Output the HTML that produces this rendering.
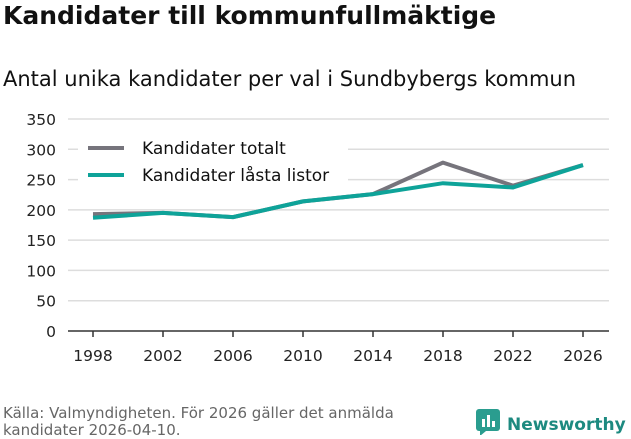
<!DOCTYPE html>
<html><head><meta charset="utf-8"><style>
body{margin:0;width:631px;height:439px;background:#fff;font-family:"DejaVu Sans","Liberation Sans",sans-serif;overflow:hidden;position:relative}
.t{position:absolute;left:3px;top:1px;font-size:25px;font-weight:bold;color:#111;white-space:nowrap}
.s{position:absolute;left:3px;top:67px;font-size:21px;color:#111;white-space:nowrap}
.src{position:absolute;left:3px;top:405px;font-size:15px;color:#666;line-height:17px;white-space:nowrap}
.logo{position:absolute;left:476px;top:409px;font-size:17px;font-weight:bold;color:#1d8a80;white-space:nowrap}
</style></head><body>
<div class="t">Kandidater till kommunfullmäktige</div>
<div class="s">Antal unika kandidater per val i Sundbybergs kommun</div>
<svg id="c" width="631" height="439" style="position:absolute;left:0;top:0"></svg>
<div class="src">Källa: Valmyndigheten. För 2026 gäller det anmälda<br>kandidater 2026-04-10.</div>
<div class="logo"><svg width="24" height="26" style="vertical-align:-5px;margin-right:7px"><rect x="0" y="0" width="24" height="22" rx="3" fill="#2a9d8f"/><polygon points="4,22 10,22 4,27" fill="#2a9d8f"/><rect x="6" y="10" width="3" height="8" fill="#fff"/><rect x="11" y="6" width="3" height="12" fill="#fff"/><rect x="16" y="12" width="3" height="6" fill="#fff"/></svg>Newsworthy</div>
<script>
const years=[1998,2002,2006,2010,2014,2018,2022,2026];
const totalt=[193,195,188,214,226,278,240,274];
const lasta=[187,195,188,214,226,244,237,274];
const yTicks=[0,50,100,150,200,250,300,350];
const NS="http://www.w3.org/2000/svg";
const svg=document.getElementById('c');
const x=v=>93+(v-1998)/28*490;
const y=v=>331-v/350*212;
function el(t,a){const e=document.createElementNS(NS,t);for(const k in a)e.setAttribute(k,a[k]);svg.appendChild(e);return e;}
yTicks.forEach(v=>{
 const g=el('line',{x1:68,x2:609,y1:y(v),y2:y(v),stroke:v===0?'#333':'#ddd','stroke-width':1.5});
 
 
 const t=el('text',{x:56,y:y(v)+6,'text-anchor':'end','font-size':15.5,fill:'#222'});t.textContent=v;
 
 
});
years.forEach(v=>{
 const l=el('line',{x1:x(v),x2:x(v),y1:331,y2:337,stroke:'#333','stroke-width':1.5});
 
 
 const t=el('text',{x:x(v),y:361,'text-anchor':'middle','font-size':15.5,fill:'#222'});t.textContent=v;
 
 
});
const lg=el('rect',{x:78,y:133,width:270,height:60,fill:'#fff'});


function line(d,c,n){const p=el('polyline',{points:d.map((v,i)=>x(years[i])+','+y(v)).join(' '),fill:'none',stroke:c,'stroke-width':4,'stroke-linejoin':'round'});
 
 }
line(totalt,'#76747c','series-kandidater-totalt');
line(lasta,'#0ea399','series-kandidater-lasta-listor');
[['Kandidater totalt','#76747c',148],['Kandidater låsta listor','#0ea399',175]].forEach(([n,c,yy],i)=>{
 const l=el('line',{x1:88,x2:124,y1:yy,y2:yy,stroke:c,'stroke-width':4});
 
 
 const t=el('text',{x:142,y:yy+6,'font-size':17,fill:'#111'});t.textContent=n;
 
 
});
</script>
</body></html>
